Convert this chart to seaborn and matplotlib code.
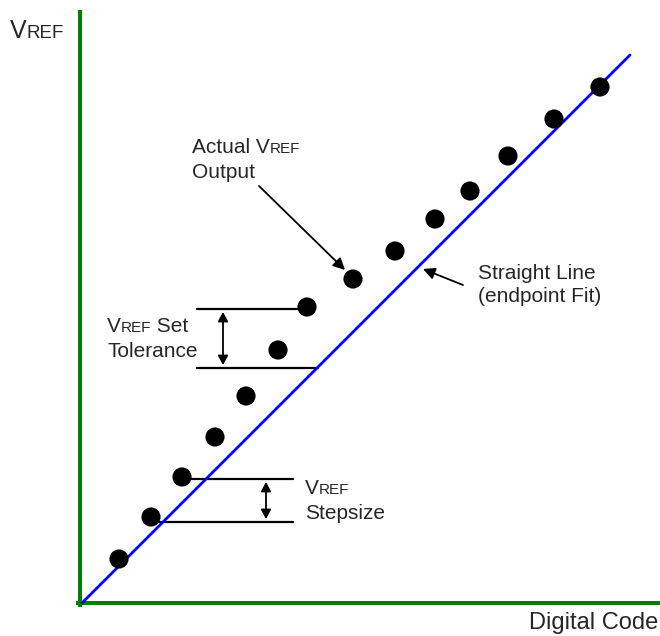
import matplotlib
matplotlib.use('Agg')
import matplotlib.pyplot as plt
import seaborn as sns

# measured dots (digital code vs actual vref output), same units on both axes
dot_code = [39, 71, 102, 135, 166, 198, 227, 273, 315, 355, 390, 428, 474, 520]
dot_vref = [44, 86, 126, 166, 207, 253, 296, 324, 352, 384, 412, 447, 484, 516]

# straight line endpoint fit
fit_code = [2, 550]
fit_vref = [0, 548]

GREEN = '#008000'
BLUE = '#0000ff'
DESC = 0.212  # descent of Liberation Sans, em fraction

sns.set_style('white')
plt.rcParams['font.family'] = ['Liberation Sans', 'DejaVu Sans']

fig = plt.figure(figsize=(6.6, 6.36), dpi=100)
ax = fig.add_axes([0, 0, 1, 1])

sns.lineplot(x=fit_code, y=fit_vref, ax=ax, color=BLUE, lw=2, zorder=4)
sns.scatterplot(x=dot_code, y=dot_vref, ax=ax, s=190, color='black',
                edgecolor='none', zorder=5)

ax.set_xlim(-80, 580)
ax.set_ylim(-33, 603)
ax.set_xticks([])
ax.set_yticks([])
for side in ['top', 'right']:
    ax.spines[side].set_visible(False)
for side in ['left', 'bottom']:
    ax.spines[side].set_position(('data', 0))
    ax.spines[side].set_color(GREEN)
    ax.spines[side].set_linewidth(2.9)
ax.spines['left'].set_bounds(-2, 591)
ax.spines['bottom'].set_bounds(-2, 580)


def sc_text(x, y, parts, ha='left'):
    # text with small-caps subscript parts, baselines aligned
    txt, fs = parts[0]
    prev = ax.text(x, y, txt, fontsize=fs, va='baseline', ha=ha)
    prev_fs = fs
    for txt, fs in parts[1:]:
        off = DESC * (prev_fs - fs)
        prev = ax.annotate(txt, xy=(1, 0), xycoords=prev, xytext=(0, off),
                           textcoords='offset points', va='bottom', fontsize=fs)
        prev_fs = fs
    return prev


LBL = 15
SUB = 11

sc_text(-70, 565, [('V', 18), ('REF', 13.5)])
sc_text(112, 450, [('Actual V', LBL), ('REF', SUB)])
ax.text(112, 425, 'Output', fontsize=LBL)
sc_text(27, 271, [('V', LBL), ('REF', SUB), (' Set', LBL)])
ax.text(27, 246, 'Tolerance', fontsize=LBL)
sc_text(225, 109, [('V', LBL), ('REF', SUB)])
ax.text(225, 84, 'Stepsize', fontsize=LBL)
ax.text(398, 324, 'Straight Line', fontsize=LBL)
ax.text(398, 301, '(endpoint Fit)', fontsize=LBL)
ax.text(578, -26, 'Digital Code', fontsize=17, ha='right')

# pointer arrows
ax.annotate('', xy=(265, 333), xytext=(179, 417),
            arrowprops=dict(arrowstyle='-|>,head_length=0.7,head_width=0.35',
                            color='black', lw=1.3, shrinkA=0, shrinkB=0))
ax.annotate('', xy=(343, 334), xytext=(383, 318),
            arrowprops=dict(arrowstyle='-|>,head_length=0.7,head_width=0.35',
                            color='black', lw=1.3, shrinkA=0, shrinkB=0))

# tolerance and stepsize markers
ax.plot([117, 227], [294, 294], color='black', lw=1.6)
ax.plot([117, 238], [235, 235], color='black', lw=1.6)
ax.annotate('', xy=(143, 291), xytext=(143, 238),
            arrowprops=dict(arrowstyle='<|-|>,head_length=0.55,head_width=0.3',
                            color='black', lw=1.3, shrinkA=0, shrinkB=0))
ax.plot([102, 213], [124, 124], color='black', lw=1.6)
ax.plot([71, 213], [81, 81], color='black', lw=1.6)
ax.annotate('', xy=(186, 121), xytext=(186, 84),
            arrowprops=dict(arrowstyle='<|-|>,head_length=0.55,head_width=0.3',
                            color='black', lw=1.3, shrinkA=0, shrinkB=0))

fig.savefig('out.png', dpi=100)
